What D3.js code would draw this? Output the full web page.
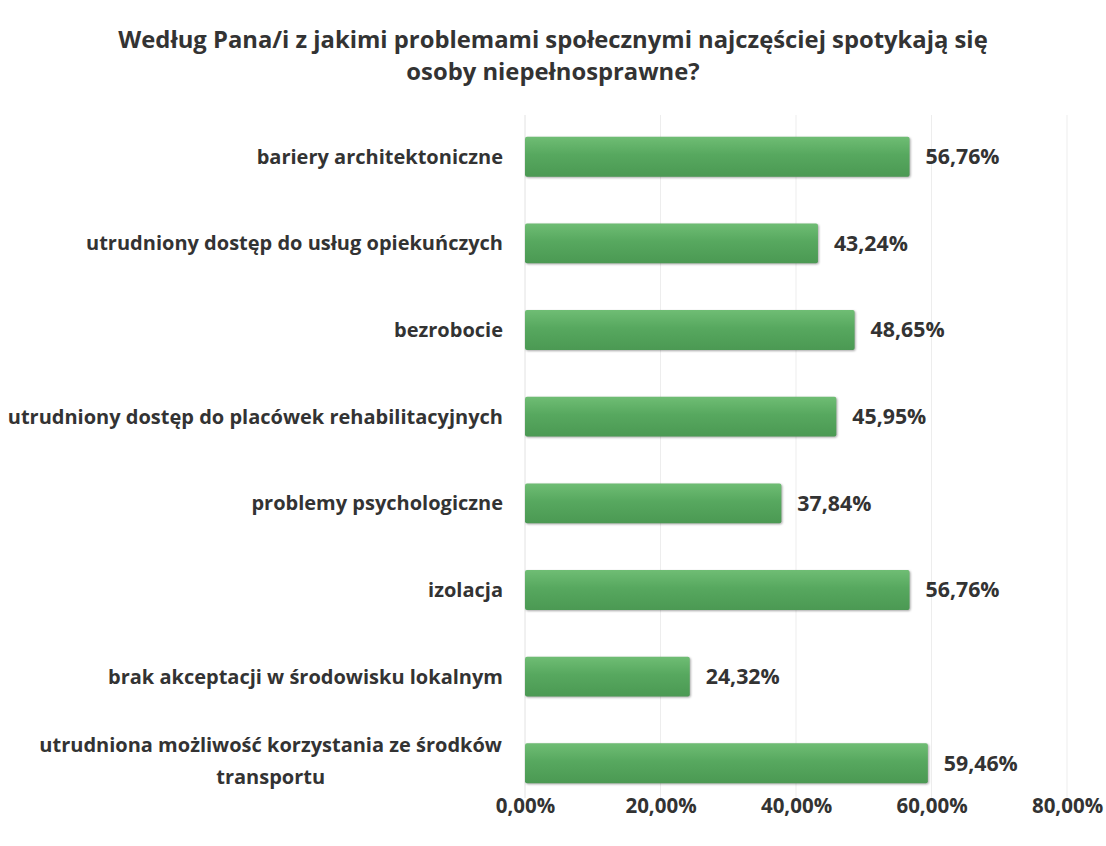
<!DOCTYPE html>
<html>
<head>
<meta charset="utf-8">
<script src="https://cdn.jsdelivr.net/npm/d3@7"></script>
<style>
  body { margin: 0; background: #fff; }
  text { font-family: "Open Sans", sans-serif; font-weight: bold; fill: #333; }
</style>
</head>
<body>
<div id="chart"></div>
<script>
const titleLines = ["Według Pana/i z jakimi problemami społecznymi najczęściej spotykają się", "osoby niepełnosprawne?"];
const categories = [
    "bariery architektoniczne",
    "utrudniony dostęp do usług opiekuńczych",
    "bezrobocie",
    "utrudniony dostęp do placówek rehabilitacyjnych",
    "problemy psychologiczne",
    "izolacja",
    "brak akceptacji w środowisku lokalnym",
    "utrudniona możliwość korzystania ze środków|transportu"
];
const values = [56.76, 43.24, 48.65, 45.95, 37.84, 56.76, 24.32, 59.46];
const xTicks = [0, 20, 40, 60, 80];

const width = 1106, height = 846;
const fmt = v => v.toFixed(2).replace(".", ",") + "%";

let svg = d3.select("#chart").append("svg")
    .attr("width", width)
    .attr("height", height);

let defs = svg.append("defs");
let grad = defs.append("linearGradient")
    .attr("id", "barGrad")
    .attr("x1", 0).attr("y1", 0).attr("x2", 0).attr("y2", 1);
grad.append("stop").attr("offset", "0%").attr("stop-color", "#6fbd74");
grad.append("stop").attr("offset", "45%").attr("stop-color", "#57a85f");
grad.append("stop").attr("offset", "100%").attr("stop-color", "#4b9953");

let x = d3.scaleLinear().domain([0, 80]).range([525, 1067]);
let y = d3.scaleBand().domain(categories).range([90, 830]).padding(0.54);

/* title */
svg.append("g").selectAll("text")
    .data(titleLines).enter()
    .append("text")
    .attr("x", 553)
    .attr("y", (d, i) => 48 + i * 32)
    .attr("text-anchor", "middle")
    .style("font-size", "23.8px")
    .text(d => d);

/* gridlines */
svg.append("g").selectAll("line")
    .data(xTicks).enter()
    .append("line")
    .attr("x1", d => x(d)).attr("x2", d => x(d))
    .attr("y1", 115).attr("y2", 798)
    .attr("stroke", d => d === 0 ? "#e2e2e2" : "#ededed")
    .attr("stroke-width", 1);

/* bars */
svg.append("g").selectAll("rect")
    .data(values).enter()
    .append("rect")
    .attr("x", x(0))
    .attr("y", (d, i) => y(categories[i]))
    .attr("width", d => x(d) - x(0))
    .attr("height", y.bandwidth())
    .attr("rx", 2)
    .attr("fill", "url(#barGrad)")
    .style("filter", "drop-shadow(1px 1px 1px rgba(0,0,0,0.35))");

/* value labels */
svg.append("g").selectAll("text")
    .data(values).enter()
    .append("text")
    .attr("x", d => x(d) + 16)
    .attr("y", (d, i) => y(categories[i]) + y.bandwidth() / 2)
    .attr("dy", "0.35em")
    .style("font-size", "21.3px")
    .text(d => fmt(d));

/* category labels */
let labels = svg.append("g").selectAll("text")
    .data(categories).enter()
    .append("text")
    .attr("y", d => y(d) + y.bandwidth() / 2)
    .style("font-size", "20px");

labels.each(function (d) {
    let parts = d.split("|");
    let t = d3.select(this);
    if (parts.length === 1) {
        t.attr("x", 503).attr("text-anchor", "end").attr("dy", "0.35em").text(d);
    } else {
        t.attr("text-anchor", "middle");
        parts.forEach((p, i) => {
            t.append("tspan")
                .attr("x", 0)
                .attr("dy", i === 0 ? "-0.55em" : "1.6em")
                .text(p);
        });
        let w = t.select("tspan").node().getComputedTextLength();
        t.selectAll("tspan").attr("x", 502 - w / 2);
    }
});

/* x axis */
let xAxis = d3.axisBottom(x).tickValues(xTicks).tickSize(0).tickFormat(fmt);
let axisG = svg.append("g")
    .attr("transform", "translate(0, 795)")
    .call(xAxis);
axisG.select(".domain").remove();
axisG.selectAll("text")
    .style("font-size", "20.5px")
    .attr("fill", "#333");
</script>
</body>
</html>
